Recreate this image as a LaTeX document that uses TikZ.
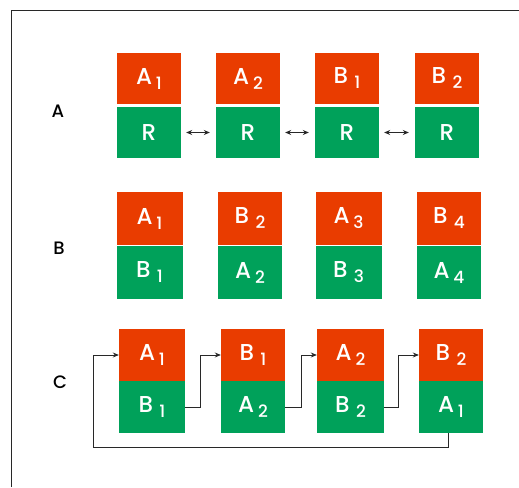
\documentclass[tikz,border=0pt]{standalone}
\usepackage{fontspec}
\setmainfont{Poppins}[UprightFont={* Medium}]
\usetikzlibrary{arrows.meta}
\definecolor{boxRed}{RGB}{233,60,0}
\definecolor{boxGreen}{RGB}{0,161,90}
\definecolor{lineGray}{RGB}{40,40,40}
\newcommand{\sub}[1]{\raisebox{-5pt}{\fontsize{17}{17}\selectfont #1}}
\tikzset{
  topbox/.style={fill=boxRed, minimum width=64pt, minimum height=51pt, inner sep=0pt,
    text=white, font=\fontsize{23}{23}\selectfont},
  botbox/.style={fill=boxGreen, minimum width=64pt, minimum height=51pt, inner sep=0pt,
    text=white, font=\fontsize{23}{23}\selectfont},
  rowlabel/.style={font=\fontsize{18}{18}\selectfont, text=black},
  flow/.style={draw=lineGray, line width=0.8pt, -{Stealth[length=6pt,width=5pt]}},
  swap/.style={draw=lineGray, line width=0.8pt, {Stealth[length=6pt,width=5pt]}-{Stealth[length=6pt,width=5pt]},
    shorten <=5pt, shorten >=6pt}
}
\begin{document}
\begin{tikzpicture}[x=1pt,y=-1pt]
            \useasboundingbox (0,0) rectangle (519,487);
            % frame
            \draw[lineGray, line width=0.8pt] (11,487) -- (11,10) -- (519,10);

            % row A
            \node[rowlabel] (labA) at (58,111) {A};
            \node[topbox] (a1t) at (149,78.5) {A\,\sub{1}};
            \node[botbox] (a1b) at (149,132.5) {R};
            \node[topbox] (a2t) at (248,78.5) {A\,\sub{2}};
            \node[botbox] (a2b) at (248,132.5) {R};
            \node[topbox] (a3t) at (347,78.5) {B\;\sub{1}};
            \node[botbox] (a3b) at (347,132.5) {R};
            \node[topbox] (a4t) at (447,78.5) {B\;\sub{2}};
            \node[botbox] (a4b) at (447,132.5) {R};

            \draw[swap] (a1b.east) -- (a2b.west);
            \draw[swap] (a2b.east) -- (a3b.west);
            \draw[swap] (a3b.east) -- (a4b.west);

            % row B
            \node[rowlabel] (labB) at (59,248) {B};
            \node[topbox, minimum width=66pt, minimum height=53pt] (b1t) at (149.5,218.5) {A\,\sub{1}};
            \node[botbox, minimum width=66pt, minimum height=53pt] (b1b) at (149.5,272.5) {B\;\sub{1}};
            \node[topbox, minimum height=53pt] (b2t) at (250,218.5) {B\;\sub{2}};
            \node[botbox, minimum height=53pt] (b2b) at (250,272.5) {A\,\sub{2}};
            \node[topbox, minimum width=66pt, minimum height=53pt] (b3t) at (348.5,218.5) {A\,\sub{3}};
            \node[botbox, minimum width=66pt, minimum height=53pt] (b3b) at (348.5,272.5) {B\;\sub{3}};
            \node[topbox, minimum height=53pt] (b4t) at (449,218.5) {B\;\sub{4}};
            \node[botbox, minimum height=53pt] (b4b) at (449,272.5) {A\,\sub{4}};

            % row C
            \node[rowlabel] (labC) at (60,382) {C};
            \node[topbox, minimum width=66pt, minimum height=52pt] (c1t) at (152,355) {A\,\sub{1}};
            \node[botbox, minimum width=66pt, minimum height=52pt] (c1b) at (152,407) {B\;\sub{1}};
            \node[topbox, minimum height=52pt] (c2t) at (253,355) {B\;\sub{1}};
            \node[botbox, minimum height=52pt] (c2b) at (253,407) {A\,\sub{2}};
            \node[topbox, minimum width=67pt, minimum height=52pt] (c3t) at (350.5,355) {A\,\sub{2}};
            \node[botbox, minimum width=67pt, minimum height=52pt] (c3b) at (350.5,407) {B\;\sub{2}};
            \node[topbox, minimum height=52pt] (c4t) at (451,355) {B\;\sub{2}};
            \node[botbox, minimum height=52pt] (c4b) at (451,407) {A\,\sub{1}};

            \draw[flow] (c1b.east) -- ++(15,0) |- (c2t.west);
            \draw[flow] (c2b.east) -- ++(16,0) |- (c3t.west);
            \draw[flow] (c3b.east) -- ++(14,0) |- (c4t.west);
            \coordinate (back) at (93,447);
            \draw[flow] ([xshift=-3pt]c4b.south) |- (back) |- (c1t.west);
        \end{tikzpicture}
\end{document}
